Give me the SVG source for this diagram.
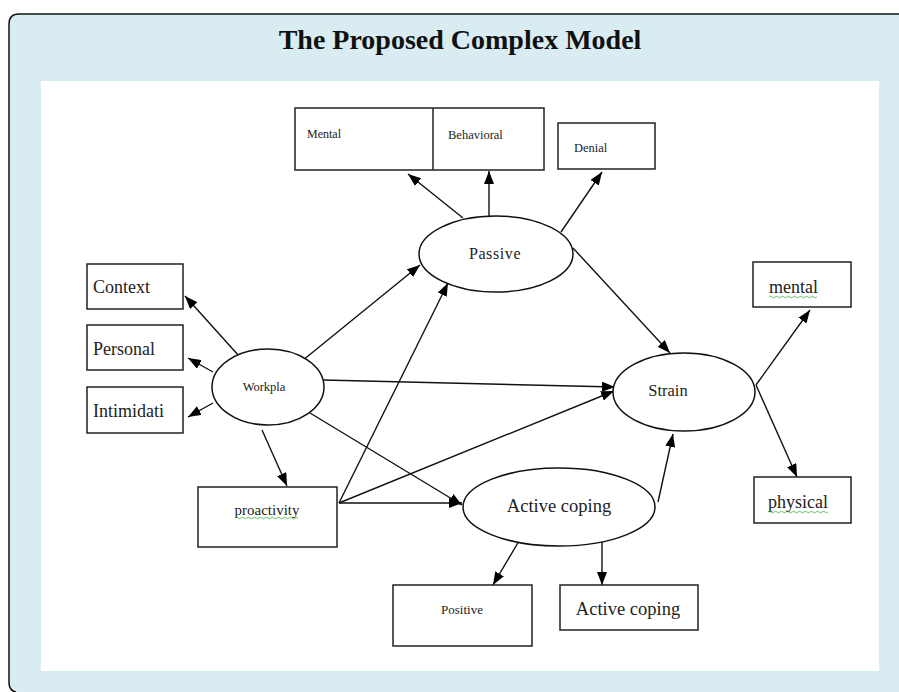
<svg xmlns="http://www.w3.org/2000/svg" width="899" height="692" viewBox="0 0 899 692">
<defs>
<style>
.box{fill:#fff;stroke:#222;stroke-width:1.5}
.ell{fill:#fff;stroke:#111;stroke-width:1.5}
.t{font-family:"Liberation Serif","Times New Roman",serif;fill:#222}
.c{stroke:#111;stroke-width:1.4;fill:none;marker-end:url(#ah)}
.sq{fill:none;stroke:#3cb043;stroke-width:0.8}
</style>
<marker id="ah" viewBox="0 0 13 10" refX="13" refY="5" markerWidth="13" markerHeight="10" markerUnits="userSpaceOnUse" orient="auto">
<path d="M0,0 L13,5 L0,10 z" fill="#000"/>
</marker>
</defs>
<path d="M910 14 H19 Q9 14 9 24 V682 Q9 692 19 692 H910 Z" fill="#d8ecf1"/>
<path d="M910 14 H19 Q9 14 9 24 V682 Q9 691 16 692" fill="none" stroke="#111" stroke-width="1.5"/>
<text x="460" y="49" text-anchor="middle" font-family="'Liberation Serif','Times New Roman',serif" font-weight="bold" font-size="28" fill="#111">The Proposed Complex Model</text>
<rect x="41" y="81" width="838" height="590" fill="#fff"/>

<g id="connectors">
<line class="c" x1="463" y1="218" x2="408" y2="174"/>
<line class="c" x1="489" y1="216" x2="489" y2="171"/>
<line class="c" x1="561" y1="232" x2="602" y2="172"/>
<line class="c" x1="573" y1="248" x2="670" y2="353"/>
<line class="c" x1="239" y1="356" x2="185" y2="296"/>
<line class="c" x1="213" y1="372" x2="188" y2="358"/>
<line class="c" x1="213" y1="403" x2="188" y2="417"/>
<line class="c" x1="297" y1="365" x2="420" y2="265"/>
<line class="c" x1="323" y1="380" x2="615" y2="387"/>
<line class="c" x1="310" y1="413" x2="462" y2="505"/>
<line class="c" x1="262" y1="430" x2="287" y2="486"/>
<line class="c" x1="339" y1="503" x2="448" y2="283"/>
<line class="c" x1="339" y1="503" x2="614" y2="391"/>
<line class="c" x1="339" y1="503" x2="462" y2="503"/>
<line class="c" x1="658" y1="502" x2="673" y2="434"/>
<line class="c" x1="519" y1="541" x2="493" y2="585"/>
<line class="c" x1="602" y1="542" x2="602" y2="585"/>
<line class="c" x1="756" y1="385" x2="810" y2="310"/>
<line class="c" x1="756" y1="385" x2="797" y2="477"/>
</g>

<g id="mental-behavioral">
<rect class="box" x="295" y="108" width="249" height="62"/>
<line x1="433" y1="108" x2="433" y2="170" stroke="#222" stroke-width="1.5"/>
<text class="t" x="307" y="138" font-size="12">Mental</text>
<text class="t" x="448" y="139" font-size="12.5">Behavioral</text>
</g>
<g id="denial">
<rect class="box" x="558" y="123" width="97" height="46"/>
<text class="t" x="574" y="152" font-size="12.5">Denial</text>
</g>
<g id="passive">
<ellipse class="ell" cx="496" cy="254" rx="77" ry="38"/>
<text class="t" x="495" y="259" font-size="16" text-anchor="middle" letter-spacing="0.6">Passive</text>
</g>
<g id="context">
<rect class="box" x="87" y="264" width="96" height="45"/>
<text class="t" x="93" y="293" font-size="18">Context</text>
</g>
<g id="personal">
<rect class="box" x="87" y="325" width="96" height="45"/>
<text class="t" x="93" y="355" font-size="18">Personal</text>
</g>
<g id="intimidati">
<rect class="box" x="87" y="387" width="96" height="46"/>
<text class="t" x="93" y="417" font-size="18">Intimidati</text>
</g>
<g id="workpla">
<ellipse class="ell" cx="268" cy="387" rx="56" ry="38"/>
<text class="t" x="264" y="391" font-size="12.5" text-anchor="middle">Workpla</text>
</g>
<g id="strain">
<ellipse class="ell" cx="684" cy="392" rx="71" ry="39"/>
<text class="t" x="668" y="396" font-size="16.5" text-anchor="middle">Strain</text>
</g>
<g id="mental">
<rect class="box" x="753" y="262" width="98" height="45"/>
<text class="t" x="769" y="293" font-size="18">mental</text>
<path class="sq" d="M769 297 q1.5 -1.5 3 0 t3 0 t3 0 t3 0 t3 0 t3 0 t3 0 t3 0 t3 0 t3 0 t3 0 t3 0 t3 0 t3 0 t3 0 t3 0"/>
</g>
<g id="physical">
<rect class="box" x="754" y="477" width="97" height="46"/>
<text class="t" x="768" y="508" font-size="18">physical</text>
<path class="sq" d="M768 512 q1.5 -1.5 3 0 t3 0 t3 0 t3 0 t3 0 t3 0 t3 0 t3 0 t3 0 t3 0 t3 0 t3 0 t3 0 t3 0 t3 0 t3 0 t3 0 t3 0 t3 0 t3 0"/>
</g>
<g id="proactivity">
<rect class="box" x="198" y="487" width="139" height="60"/>
<text class="t" x="267" y="515" font-size="15" text-anchor="middle">proactivity</text>
<path class="sq" d="M235 518 q1.5 -1.5 3 0 t3 0 t3 0 t3 0 t3 0 t3 0 t3 0 t3 0 t3 0 t3 0 t3 0 t3 0 t3 0 t3 0 t3 0 t3 0 t3 0 t3 0 t3 0 t3 0 t3 0"/>
</g>
<g id="active-coping">
<ellipse class="ell" cx="559" cy="507" rx="96" ry="39"/>
<text class="t" x="559" y="512" font-size="18.5" text-anchor="middle">Active coping</text>
</g>
<g id="positive">
<rect class="box" x="393" y="585" width="139" height="61"/>
<text class="t" x="462" y="614" font-size="13" text-anchor="middle">Positive</text>
</g>
<g id="active-coping-box">
<rect class="box" x="560" y="585" width="138" height="45"/>
<text class="t" x="628" y="615" font-size="18.5" text-anchor="middle">Active coping</text>
</g>
</svg>
